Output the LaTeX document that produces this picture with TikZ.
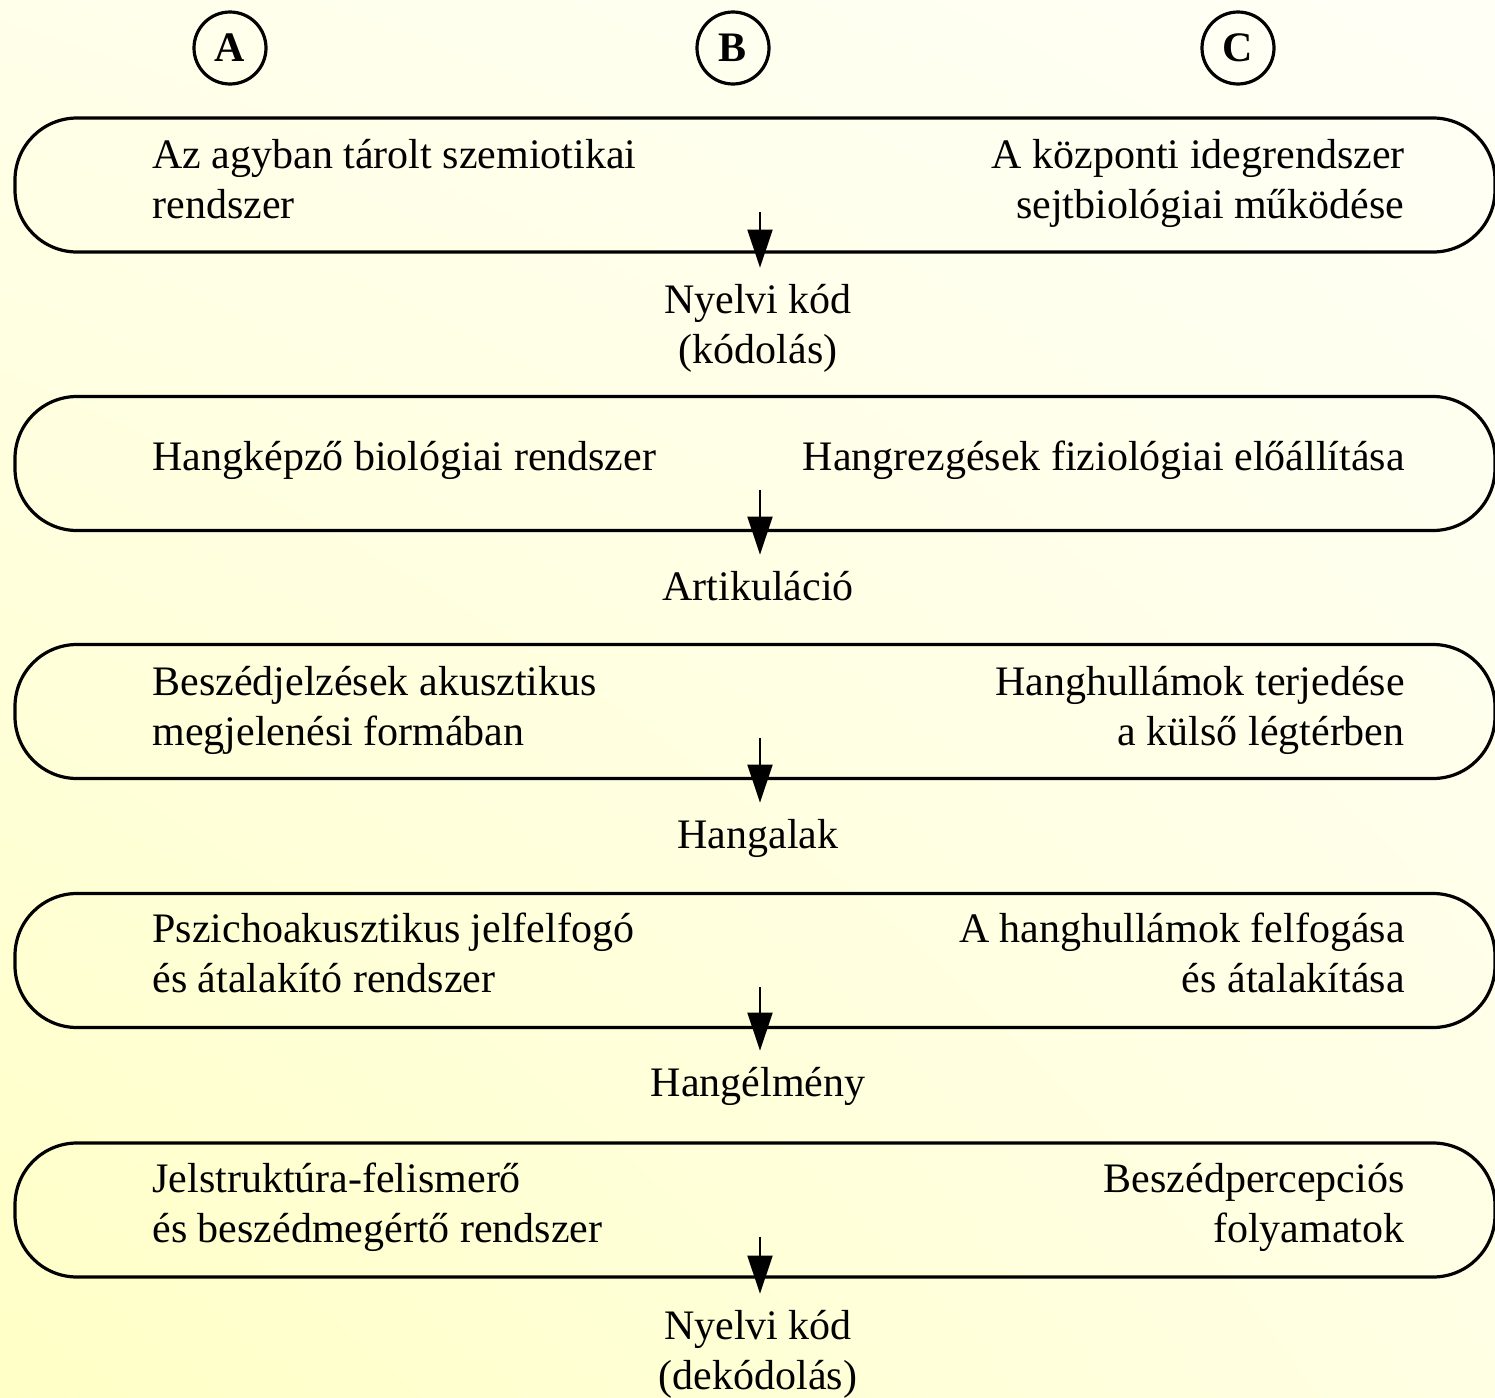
\documentclass[tikz,border=0pt]{standalone}
\usepackage{fontspec}
\setmainfont{Liberation Serif}
\usetikzlibrary{arrows.meta,calc,shadings}
\definecolor{bgA}{HTML}{FFFFC6}
\definecolor{bgB}{HTML}{FFFFF6}
\definecolor{bgC}{HTML}{FFFFE4}
\definecolor{bgD}{HTML}{FFFFEA}
\newcommand{\sx}{\strut}
\begin{document}
\begin{tikzpicture}[x=0.5pt,y=-0.5pt,
  txt/.style={font=\fontsize{21}{25}\selectfont, inner sep=0pt},
  pill/.style={draw, line width=1.6pt, rounded corners=31pt, minimum width=740pt, minimum height=67pt, inner sep=0pt},
  lt/.style={txt, align=left, anchor=west},
  rt/.style={txt, align=right, anchor=east},
  mid/.style={txt, align=center},
  circ/.style={draw, circle, line width=1.6pt, minimum size=36pt, inner sep=0pt, font=\fontsize{21}{25}\selectfont\bfseries},
  arr/.style={line width=1pt, -{Triangle[length=19pt,width=12.5pt]}}]
\useasboundingbox (0,0) rectangle (1495,1398);
\shade[lower left=bgA, upper right=bgB, lower right=bgC, upper left=bgD] (0,0) rectangle (1495,1398);

% column markers
\node[circ] (cA) at (230,48) {A};
\node[circ] (cB) at (733,48) {B};
\node[circ] (cC) at (1238,48) {C};

% boxes
\node[pill] (b1) at (755,185) {};
\node[pill] (b2) at (755,463.5) {};
\node[pill] (b3) at (755,711.5) {};
\node[pill] (b4) at (755,960.5) {};
\node[pill] (b5) at (755,1210) {};

% box texts
\node[lt] (t1l) at (152,183) {\sx Az agyban tárolt szemiotikai\\\sx rendszer};
\node[rt] (t1r) at (1405,183) {\sx A központi idegrendszer\\\sx sejtbiológiai működése};
\node[lt] (t2l) at (152,460) {\sx Hangképző biológiai rendszer};
\node[rt] (t2r) at (1405,460) {\sx Hangrezgések fiziológiai előállítása};
\node[lt] (t3l) at (152,710) {\sx Beszédjelzések akusztikus\\\sx megjelenési formában};
\node[rt] (t3r) at (1405,710) {\sx Hanghullámok terjedése\\\sx a külső légtérben};
\node[lt] (t4l) at (152,957) {\sx Pszichoakusztikus jelfelfogó\\\sx és átalakító rendszer};
\node[rt] (t4r) at (1405,957) {\sx A hanghullámok felfogása\\\sx és átalakítása};
\node[lt] (t5l) at (152,1207) {\sx Jelstruktúra-felismerő\\\sx és beszédmegértő rendszer};
\node[rt] (t5r) at (1405,1207) {\sx Beszédpercepciós\\\sx folyamatok};

% intermediate labels
\node[mid] (l1) at (758,328) {\sx Nyelvi kód\\\sx (kódolás)};
\node[mid] (l2) at (758,590) {\sx Artikuláció};
\node[mid] (l3) at (758,838) {\sx Hangalak};
\node[mid] (l4) at (758,1086) {\sx Hangélmény};
\node[mid] (l5) at (758,1354) {\sx Nyelvi kód\\\sx (dekódolás)};

% arrows
\foreach \i in {1,...,5}{
  \draw[arr] ($(b\i.south -| l\i.north)+(2,-42)$) -- ($(l\i.north)+(2,-10)$);
}
\end{tikzpicture}
\end{document}
